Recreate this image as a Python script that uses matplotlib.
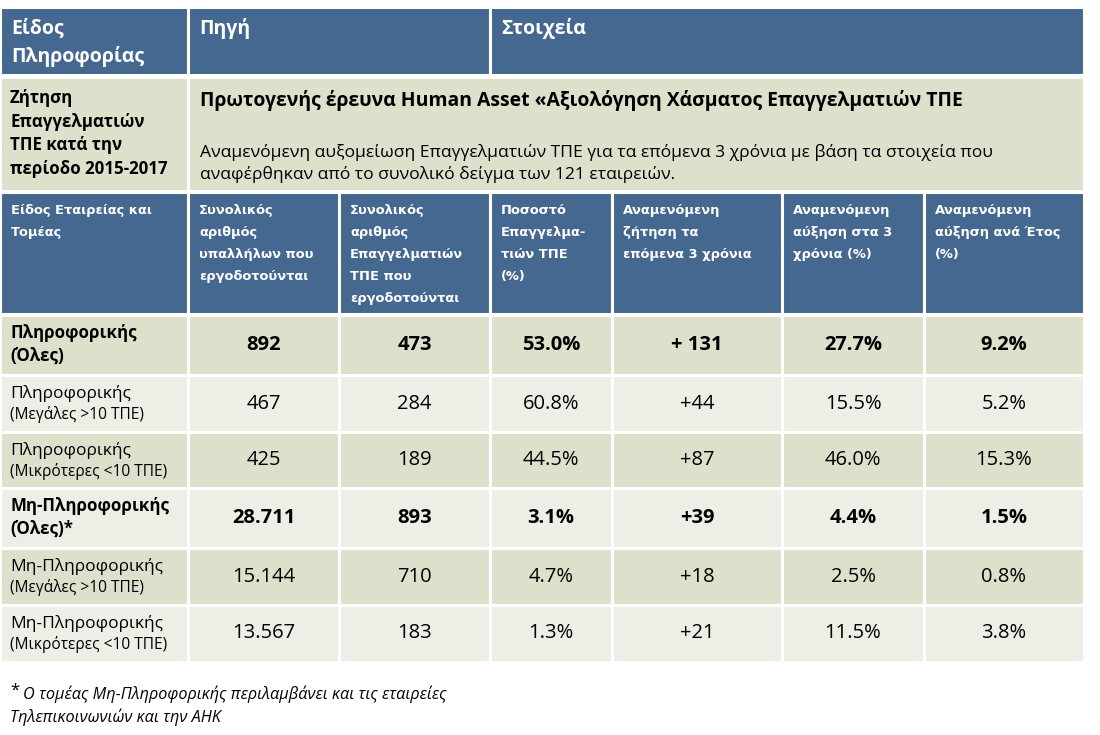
import matplotlib
matplotlib.use('Agg')
import matplotlib.pyplot as plt
from matplotlib.patches import Rectangle

# ---------------- data ----------------
top_headers = ['Είδος\nΠληροφορίας', 'Πηγή', 'Στοιχεία']
info_label = 'Ζήτηση\nΕπαγγελματιών\nΤΠΕ κατά την\nπερίοδο 2015-2017'
source_title = 'Πρωτογενής έρευνα Human Asset «Αξιολόγηση Χάσματος Επαγγελματιών ΤΠΕ'
source_desc = ('Αναμενόμενη αυξομείωση Επαγγελματιών ΤΠΕ για τα επόμενα 3 χρόνια με βάση τα στοιχεία που\n'
               'αναφέρθηκαν από το συνολικό δείγμα των 121 εταιρειών.')
col_headers = [
    'Είδος Εταιρείας και\nΤομέας',
    'Συνολικός\nαριθμός\nυπαλλήλων που\nεργοδοτούνται',
    'Συνολικός\nαριθμός\nΕπαγγελματιών\nΤΠΕ που\nεργοδοτούνται',
    'Ποσοστό\nΕπαγγελμα-\nτιών ΤΠΕ\n(%)',
    'Αναμενόμενη\nζήτηση τα\nεπόμενα 3 χρόνια',
    'Αναμενόμενη\nαύξηση στα 3\nχρόνια (%)',
    'Αναμενόμενη\nαύξηση ανά Έτος\n(%)',
]
row_main = ['Πληροφορικής', 'Πληροφορικής', 'Πληροφορικής',
            'Μη-Πληροφορικής', 'Μη-Πληροφορικής', 'Μη-Πληροφορικής']
row_sub = ['(Όλες)', '(Μεγάλες >10 ΤΠΕ)', '(Μικρότερες <10 ΤΠΕ)',
           '(Όλες)*', '(Μεγάλες >10 ΤΠΕ)', '(Μικρότερες <10 ΤΠΕ)']
row_bold = [True, False, False, True, False, False]
total_employees = ['892', '467', '425', '28.711', '15.144', '13.567']
ict_employees = ['473', '284', '189', '893', '710', '183']
ict_share = ['53.0%', '60.8%', '44.5%', '3.1%', '4.7%', '1.3%']
demand_3y = ['+ 131', '+44', '+87', '+39', '+18', '+21']
growth_3y = ['27.7%', '15.5%', '46.0%', '4.4%', '2.5%', '11.5%']
growth_year = ['9.2%', '5.2%', '15.3%', '1.5%', '0.8%', '3.8%']
footnote_star = '*'
footnote_text = 'Ο τομέας Μη-Πληροφορικής περιλαμβάνει και τις εταιρείες\nΤηλεπικοινωνιών και την ΑΗΚ'

# ---------------- style ----------------
W, H = 1100, 735
BLUE = '#44688F'
TAN = '#DFE0CB'
LIGHT = '#EEEEE6'
BODY = ['Open Sans', 'DejaVu Sans']
HEAD = ['DejaVu Sans']

fig = plt.figure(figsize=(11, 7.35), dpi=100)
ax = fig.add_axes([0, 0, 1, 1])
ax.set_xlim(0, W)
ax.set_ylim(H, 0)
ax.axis('off')


def cell(x0, x1, y0, y1, color):
    ax.add_patch(Rectangle((x0, y0), x1 - x0, y1 - y0, facecolor=color,
                           edgecolor='white', linewidth=2.2))


def lines(x, y, text, dy, **kw):
    for i, ln in enumerate(text.split('\n')):
        ax.text(x, y + i * dy, ln, va='center', **kw)


# top header row
tx = [0, 188, 490, 1084]
for i, h in enumerate(top_headers):
    cell(tx[i], tx[i + 1], 7, 75, BLUE)
    lines(tx[i] + 11, 28, h, 28, color='white', fontsize=14, fontweight='bold', family=BODY)

# info row
cell(0, 188, 77, 191, TAN)
cell(188, 1084, 77, 191, TAN)
lines(10, 98, info_label, 23.5, color='black', fontsize=12.2, fontweight='bold', family=BODY)
ax.text(200, 100, source_title, va='center', fontsize=13.95, fontweight='bold', family=BODY)
desc = source_desc.split('\n')
ax.text(200, 152, desc[0], va='center', fontsize=12.6, family=BODY)
ax.text(200, 174, desc[1], va='center', fontsize=12.6, family=BODY)

# column header row
cx = [0, 188, 339, 490, 612, 782, 924, 1084]
for i, h in enumerate(col_headers):
    cell(cx[i], cx[i + 1], 192, 314, BLUE)
    lines(cx[i] + 11, 210, h, 22.2, color='white', fontsize=9.4,
          fontweight='bold', family=HEAD)

# data rows
ry = [315, 375, 432, 488, 548, 605, 662]
cols = [total_employees, ict_employees, ict_share, demand_3y, growth_3y, growth_year]
for r in range(len(row_main)):
    y0, y1 = ry[r], ry[r + 1]
    yc = (y0 + y1) / 2
    color = TAN if r % 2 == 0 else LIGHT
    for c in range(len(cx) - 1):
        cell(cx[c], cx[c + 1], y0, y1, color)
    if row_bold[r]:
        ax.text(10, yc - 12, row_main[r], va='center', fontsize=12.2,
                fontweight='bold', family=BODY)
        ax.text(10, yc + 11, row_sub[r], va='center', fontsize=12.2,
                fontweight='bold', family=BODY)
    else:
        ax.text(10, yc - 10, row_main[r], va='center', fontsize=12.5, family=BODY)
        ax.text(10, yc + 11, row_sub[r], va='center', fontsize=11.2, family=BODY)
    for c, vals in enumerate(cols):
        xc = (cx[c + 1] + cx[c + 2]) / 2
        ax.text(xc, yc, vals[r], ha='center', va='center', fontsize=14.5,
                fontweight='bold' if row_bold[r] else 'normal', family=BODY)

# footnote
ax.text(10, 691, footnote_star, va='center', fontsize=12, family=BODY)
fl = footnote_text.split('\n')
ax.text(23, 694, fl[0], va='center', fontsize=11.7, style='italic', family=BODY)
ax.text(10, 717, fl[1], va='center', fontsize=11.7, style='italic', family=BODY)

fig.savefig('out.png', dpi=100, facecolor='white')
